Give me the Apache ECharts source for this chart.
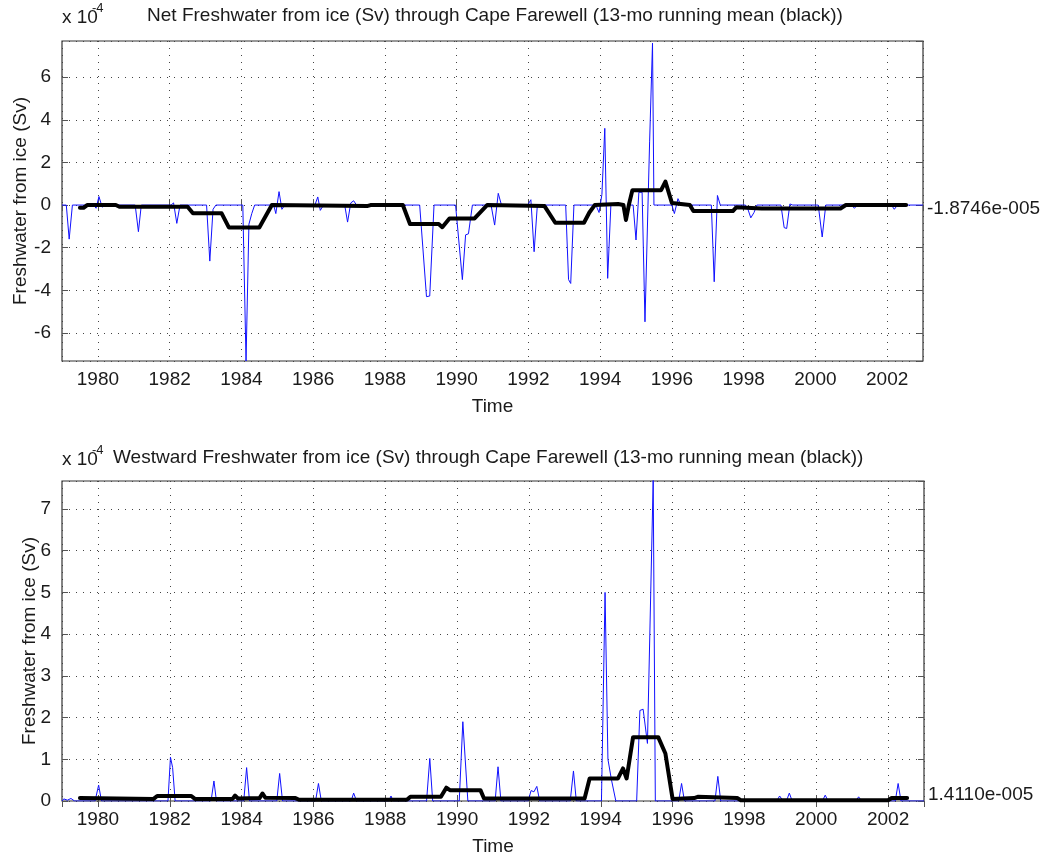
<!DOCTYPE html>
<html><head><meta charset="utf-8">
<script src="https://cdn.jsdelivr.net/npm/echarts@6/dist/echarts.min.js"></script>
<style>html,body{margin:0;padding:0;background:#fff}#c{width:1043px;height:856px}</style>
</head><body><div id="c"></div>
<script>
// values in units of 1e-4 Sv, time in decimal years
const netIce = [
  [1979.0,0],[1979.12,0],[1979.2,-1.6],[1979.29,0],
  [1979.88,0],[1979.95,-0.15],[1980.03,0.4],[1980.12,-0.1],[1980.2,0],
  [1981.04,0],[1981.13,-1.25],[1981.21,0],
  [1982.04,0],[1982.11,0.1],[1982.2,-0.86],[1982.29,0],
  [1983.03,0],[1983.12,-2.63],[1983.21,-0.2],[1983.29,0],
  [1984.04,0],[1984.13,-7.32],[1984.21,-0.9],[1984.29,-0.4],[1984.37,0],
  [1984.9,0],[1984.96,-0.4],[1985.05,0.63],[1985.13,-0.2],[1985.21,0],
  [1986.05,0],[1986.13,0.38],[1986.2,-0.25],[1986.29,0],
  [1986.88,0],[1986.96,-0.8],[1987.05,0.1],[1987.13,0.2],[1987.21,0],
  [1988.97,0],[1989.16,-4.3],[1989.25,-4.27],[1989.37,0],
  [1989.97,0],[1990.16,-3.5],[1990.25,-1.4],[1990.33,-1.35],[1990.44,0],
  [1990.96,0],[1991.06,-0.94],[1991.16,0.55],[1991.25,0],
  [1991.98,0],[1992.07,0.25],[1992.16,-2.19],[1992.25,0],
  [1993.04,0],[1993.12,-3.5],[1993.18,-3.68],[1993.27,0],
  [1993.88,0],[1993.97,-0.35],[1994.05,0.5],[1994.13,3.6],[1994.21,-3.44],[1994.3,0],
  [1994.62,0],[1994.72,-0.78],[1994.8,0],[1994.92,0],[1995.0,-1.64],[1995.08,0.6],[1995.17,0.6],
  [1995.25,-5.48],[1995.38,3.0],[1995.46,7.6],[1995.5,0],
  [1996.0,0],[1996.07,-0.4],[1996.17,0.3],[1996.25,0],
  [1997.1,0],[1997.18,-3.6],[1997.27,0.45],[1997.35,0],
  [1998.05,0],[1998.12,-0.2],[1998.2,-0.6],[1998.29,-0.35],[1998.37,0],
  [1999.04,0],[1999.13,-1.06],[1999.2,-1.1],[1999.29,0.05],[1999.37,0],
  [2000.08,0],[2000.19,-1.5],[2000.29,0],
  [2001.0,0],[2001.09,-0.15],[2001.17,0],
  [2002.12,0],[2002.2,-0.2],[2002.29,0],[2003.0,0]
];
const netMean = [
  [1979.5,-0.13],[1979.6,-0.13],[1979.7,0.0],[1980.5,0.0],[1980.6,-0.08],
  [1982.5,-0.08],[1982.65,-0.39],[1983.45,-0.39],[1983.65,-1.05],[1984.5,-1.05],
  [1984.85,0.0],[1987.5,-0.05],[1987.6,0.0],[1988.5,0.0],[1988.7,-0.89],
  [1989.5,-0.89],[1989.6,-1.04],[1989.8,-0.63],[1990.5,-0.63],[1990.85,0.0],
  [1992.45,-0.05],[1992.75,-0.83],[1993.55,-0.83],[1993.7,-0.35],[1993.85,0.0],
  [1994.5,0.05],[1994.65,0.0],[1994.72,-0.7],[1994.8,0.0],[1994.9,0.7],
  [1995.7,0.7],[1995.82,1.1],[1996.0,0.1],[1996.5,0.0],[1996.6,-0.28],
  [1997.7,-0.28],[1997.8,-0.1],[1998.5,-0.16],[2000.7,-0.16],[2000.85,0.0],[2002.53,0.0]
];
const westIce = [
  [1979.0,0],[1979.05,0.05],[1979.15,0.02],[1979.25,0.06],[1979.35,0],
  [1979.92,0],[1980.02,0.38],[1980.1,0],
  [1981.95,0],[1982.02,1.05],[1982.08,0.8],[1982.15,0],
  [1983.15,0],[1983.23,0.48],[1983.3,0],
  [1984.06,0],[1984.14,0.8],[1984.22,0],
  [1984.98,0],[1985.06,0.66],[1985.14,0],
  [1986.06,0],[1986.14,0.42],[1986.22,0],
  [1987.05,0],[1987.12,0.19],[1987.2,0],
  [1988.1,0],[1988.16,0.12],[1988.22,0],
  [1989.15,0],[1989.24,1.02],[1989.32,0],
  [1990.06,0],[1990.16,1.9],[1990.3,0],
  [1991.06,0],[1991.14,0.82],[1991.22,0],
  [1991.98,0],[1992.06,0.25],[1992.14,0.22],[1992.22,0.35],[1992.3,0],
  [1993.15,0],[1993.24,0.72],[1993.32,0],
  [1994.02,0],[1994.12,5.0],[1994.2,1.0],[1994.3,0.5],[1994.42,0],
  [1995.0,0],[1995.09,2.17],[1995.18,2.2],[1995.3,1.38],[1995.46,7.7],[1995.52,0],
  [1996.17,0],[1996.25,0.42],[1996.33,0],
  [1997.18,0],[1997.26,0.59],[1997.34,0],
  [1998.9,0],[1998.98,0.12],[1999.08,0],[1999.17,0],[1999.25,0.19],[1999.33,0],
  [2000.17,0],[2000.25,0.14],[2000.33,0],
  [2001.1,0],[2001.18,0.1],[2001.26,0],
  [2002.2,0],[2002.28,0.42],[2002.36,0],[2003.0,0]
];
const westMean = [
  [1979.5,0.07],[1981.55,0.05],[1981.65,0.12],[1982.6,0.12],[1982.7,0.05],
  [1983.75,0.05],[1983.82,0.13],[1983.9,0.06],[1984.5,0.07],[1984.58,0.18],
  [1984.66,0.08],[1985.5,0.07],[1985.6,0.03],[1988.6,0.03],[1988.7,0.1],
  [1989.55,0.1],[1989.7,0.32],[1989.8,0.26],[1990.65,0.26],[1990.75,0.06],
  [1993.55,0.06],[1993.69,0.54],[1994.48,0.54],[1994.62,0.78],[1994.72,0.54],
  [1994.9,1.53],[1995.6,1.53],[1995.8,1.14],[1996.0,0.05],[1996.6,0.07],
  [1996.7,0.1],[1997.8,0.07],[1997.9,0.02],[2002.0,0.02],[2002.1,0.07],[2002.53,0.07]
];
const netMeanValue = -0.18746;   // x1e-4
const westMeanValue = 0.14110;   // x1e-4
const netMeanText = '-1.8746e-005';
const westMeanText = '1.4110e-005';
const titles = [
  'Net Freshwater from ice (Sv) through Cape Farewell (13-mo running mean (black))',
  'Westward Freshwater from ice (Sv) through Cape Farewell (13-mo running mean (black))'
];
const yName = 'Freshwater from ice (Sv)';
const xName = 'Time';
const yRanges = [[-7.32, 7.7], [0, 7.67]];
const yIntervals = [2, 1];
const xRange = [1979, 2003];

const FONT = "'Liberation Sans', Arial, Helvetica, sans-serif";
const TXT = '#1a1a1a';
const grids = [
  {left: 62, top: 41, width: 861, height: 320},
  {left: 62, top: 481, width: 862, height: 320}
];
const yNameGaps = [32, 23];
const splitStyle = {show: true, lineStyle: {color: '#444', width: 1, type: [1, 6]}};
const xAxes = [], yAxes = [];
grids.forEach((g, i) => {
  xAxes.push({
    type: 'value', gridIndex: i, min: xRange[0], max: xRange[1], minInterval: 2, maxInterval: 2, splitNumber: 12,
    position: 'bottom',
    name: xName, nameLocation: 'middle', nameGap: 36, nameMoveOverlap: false,
    nameTextStyle: {fontFamily: FONT, fontSize: 19, color: TXT},
    axisLine: {show: false}, axisTick: {show: true, inside: true, length: 6, lineStyle: {color: '#555'}},
    axisLabel: {fontFamily: FONT, fontSize: 19, color: TXT, margin: 9, showMinLabel: false, showMaxLabel: false,
                formatter: v => String(v)},
    splitLine: splitStyle
  });
  xAxes.push({
    type: 'value', gridIndex: i, min: xRange[0], max: xRange[1], minInterval: 2, maxInterval: 2, splitNumber: 12,
    position: 'top',
    axisLine: {show: false}, axisTick: {show: true, inside: true, length: 6, lineStyle: {color: '#555'}},
    axisLabel: {show: false}, splitLine: {show: false}
  });
  const yBase = {
    type: 'value', gridIndex: i, min: yRanges[i][0], max: yRanges[i][1],
    minInterval: yIntervals[i], maxInterval: yIntervals[i], splitNumber: 8
  };
  yAxes.push(Object.assign({}, yBase, {
    position: 'left',
    name: yName, nameLocation: 'middle', nameGap: yNameGaps[i], nameRotate: 90, nameMoveOverlap: false,
    nameTextStyle: {fontFamily: FONT, fontSize: 19, color: TXT},
    axisLine: {show: false}, axisTick: {show: true, inside: true, length: 6, lineStyle: {color: '#555'}},
    axisLabel: {fontFamily: FONT, fontSize: 19, color: TXT, margin: 11, showMinLabel: i === 1, showMaxLabel: false},
    splitLine: splitStyle
  }));
  yAxes.push(Object.assign({}, yBase, {
    position: 'right',
    axisLine: {show: false}, axisTick: {show: true, inside: true, length: 6, lineStyle: {color: '#555'}},
    axisLabel: {show: false}, splitLine: {show: false}
  }));
});

function blueSeries(data, i, meanVal, meanText) {
  return {
    type: 'line', xAxisIndex: i * 2, yAxisIndex: i * 2, data: data,
    showSymbol: false, symbol: 'none', z: 2,
    lineStyle: {color: '#1010ff', width: 1}, animation: false,
    markLine: {
      silent: true, symbol: 'none', animation: false,
      lineStyle: {color: 'rgba(0,0,0,0)', width: 1, type: 'solid'},
      label: {show: true, position: 'end', distance: 4, formatter: meanText,
              fontFamily: FONT, fontSize: 19, color: TXT},
      emphasis: {disabled: true},
      data: [{yAxis: meanVal}]
    }
  };
}
function blackSeries(data, i) {
  return {
    type: 'line', xAxisIndex: i * 2, yAxisIndex: i * 2, data: data,
    showSymbol: false, symbol: 'none', z: 3,
    lineStyle: {color: '#000', width: 4, join: 'round', cap: 'round'}, animation: false
  };
}

const supText = (x, y) => [
  {type: 'text', style: {x: x, y: y, text: 'x 10', font: '19px ' + FONT, fill: TXT, textVerticalAlign: 'middle'}},
  {type: 'text', style: {x: x + 30, y: y - 10, text: '-4', font: '13px ' + FONT, fill: TXT, textVerticalAlign: 'middle'}}
];

const option = {
  backgroundColor: '#fff',
  animation: false,
  grid: grids.map(g => Object.assign({show: true, borderColor: '#333', borderWidth: 1.2, backgroundColor: 'transparent',
                                      containLabel: false, outerBoundsMode: 'none'}, g)),
  xAxis: xAxes,
  yAxis: yAxes,
  series: [
    blueSeries(netIce, 0, netMeanValue, netMeanText),
    blackSeries(netMean, 0),
    blueSeries(westIce, 1, westMeanValue, westMeanText),
    blackSeries(westMean, 1)
  ],
  graphic: [
    ...supText(62, 18),
    {type: 'text', style: {x: 495, y: 16, text: titles[0], font: '19px ' + FONT, fill: TXT, textAlign: 'center', textVerticalAlign: 'middle'}},
    ...supText(62, 460),
    {type: 'text', style: {x: 113, y: 458, text: titles[1], font: '19px ' + FONT, fill: TXT, textAlign: 'left', textVerticalAlign: 'middle'}}
  ]
};
const chart = echarts.init(document.getElementById('c'), null, {renderer: 'canvas'});
chart.setOption(option);
</script></body></html>
